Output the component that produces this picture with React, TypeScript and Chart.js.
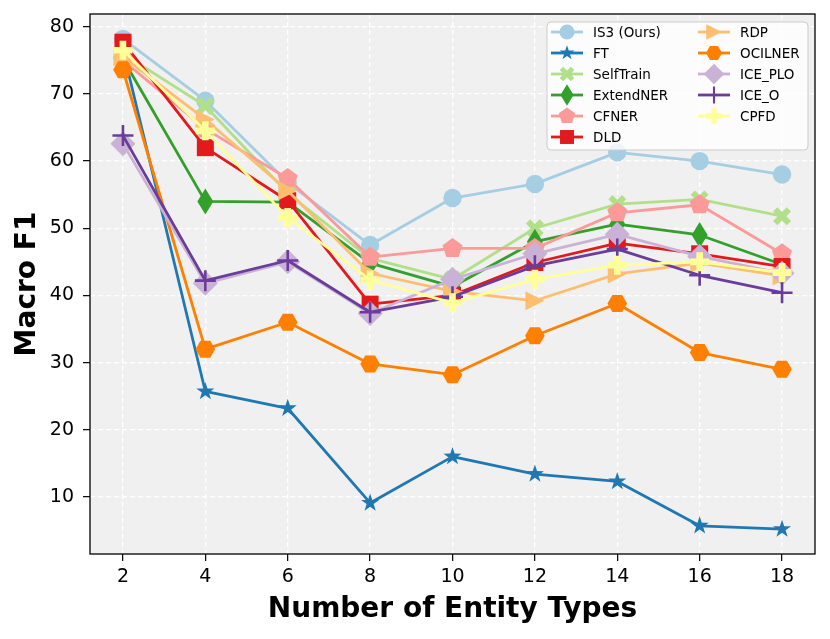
import { useEffect, useRef } from 'react'
import { Chart, registerables } from 'chart.js'

Chart.register(...registerables)

const entityCounts = [2, 4, 6, 8, 10, 12, 14, 16, 18]
const yTicks = [10, 20, 30, 40, 50, 60, 70, 80]

const methods = ['IS3 (Ours)', 'FT', 'SelfTrain', 'ExtendNER', 'CFNER', 'DLD', 'RDP', 'OCILNER', 'ICE_PLO', 'ICE_O', 'CPFD']
const colors = ['#a6cee3', '#1f78b4', '#b2df8a', '#33a02c', '#fb9a99', '#e31a1c', '#fdbf6f', '#ff7f00', '#cab2d6', '#6a3d9a', '#ffff99']
const markers = ['circle', 'star', 'x', 'thinDiamond', 'pentagon', 'square', 'triRight', 'hexagon', 'diamond', 'plus', 'plusFilled']

const is3 = [78.2, 69.0, 56.8, 47.5, 54.5, 56.6, 61.3, 60.0, 58.0]
const ft = [76.5, 25.7, 23.2, 9.1, 16.0, 13.4, 12.3, 5.7, 5.2]
const selfTrain = [76.0, 68.2, 55.2, 45.5, 42.4, 50.0, 53.6, 54.3, 51.8]
const extendNER = [75.2, 54.0, 53.9, 44.8, 41.3, 48.0, 50.6, 49.0, 44.6]
const cfner = [75.0, 64.8, 57.4, 45.7, 47.0, 47.0, 52.3, 53.5, 46.2]
const dld = [77.7, 62.0, 54.1, 38.7, 40.0, 44.9, 47.8, 46.2, 44.3]
const rdp = [75.5, 66.2, 55.6, 43.3, 40.6, 39.2, 43.2, 44.8, 42.9]
const ocilner = [73.6, 32.0, 36.0, 29.8, 28.2, 34.0, 38.8, 31.5, 29.0]
const icePLO = [62.6, 41.8, 45.0, 37.3, 42.4, 46.2, 49.1, 45.8, 43.3]
const iceO = [63.8, 42.2, 45.2, 37.5, 39.8, 44.4, 46.9, 43.0, 40.4]
const cpfd = [76.5, 64.5, 51.6, 42.3, 38.9, 42.4, 44.5, 45.0, 43.4]

const series = [is3, ft, selfTrain, extendNER, cfner, dld, rdp, ocilner, icePLO, iceO, cpfd]

const LINE_W = 2.8

function poly(ctx: CanvasRenderingContext2D, pts: number[][]) {
  ctx.moveTo(pts[0][0], pts[0][1])
  for (let i = 1; i < pts.length; i++) ctx.lineTo(pts[i][0], pts[i][1])
  ctx.closePath()
}

function plusPts(a: number, b: number) {
  return [[-b, -a], [b, -a], [b, -b], [a, -b], [a, b], [b, b], [b, a], [-b, a], [-b, b], [-a, b], [-a, -b], [-b, -b]]
}

function drawMarker(ctx: CanvasRenderingContext2D, kind: string, x: number, y: number, k: number, color: string) {
  ctx.save()
  ctx.translate(x, y)
  ctx.scale(k, k)
  ctx.fillStyle = color
  ctx.strokeStyle = color
  ctx.beginPath()
  if (kind === 'circle') {
    ctx.arc(0, 0, 9.2, 0, Math.PI * 2)
  } else if (kind === 'star') {
    const pts: number[][] = []
    for (let i = 0; i < 10; i++) {
      const r = i % 2 === 0 ? 9.5 : 3.7
      const ang = -Math.PI / 2 + (i * Math.PI) / 5
      pts.push([r * Math.cos(ang), r * Math.sin(ang)])
    }
    poly(ctx, pts)
  } else if (kind === 'x') {
    const c = Math.SQRT1_2
    poly(ctx, plusPts(9.7, 3).map(([px, py]) => [c * (px - py), c * (px + py)]))
  } else if (kind === 'thinDiamond') {
    poly(ctx, [[0, -13], [8, 0], [0, 13], [-8, 0]])
  } else if (kind === 'pentagon') {
    const pts: number[][] = []
    for (let i = 0; i < 5; i++) {
      const ang = -Math.PI / 2 + (i * 2 * Math.PI) / 5
      pts.push([10.5 * Math.cos(ang), 10.5 * Math.sin(ang)])
    }
    poly(ctx, pts)
  } else if (kind === 'square') {
    ctx.rect(-8.5, -8.5, 17, 17)
  } else if (kind === 'triRight') {
    poly(ctx, [[9.5, 0], [-9.5, -9.5], [-9.5, 9.5]])
  } else if (kind === 'hexagon') {
    const pts: number[][] = []
    for (let i = 0; i < 6; i++) {
      const ang = (i * Math.PI) / 3
      pts.push([9.8 * Math.cos(ang), 9.8 * Math.sin(ang)])
    }
    poly(ctx, pts)
  } else if (kind === 'diamond') {
    poly(ctx, [[0, -12.5], [12.5, 0], [0, 12.5], [-12.5, 0]])
  } else if (kind === 'plus') {
    ctx.lineWidth = 2.6
    ctx.moveTo(-10.5, 0)
    ctx.lineTo(10.5, 0)
    ctx.moveTo(0, -10.5)
    ctx.lineTo(0, 10.5)
    ctx.stroke()
    ctx.restore()
    return
  } else if (kind === 'plusFilled') {
    poly(ctx, plusPts(9.5, 3.3))
  }
  ctx.fill()
  ctx.restore()
}

const backdrop = {
  id: 'backdrop',
  beforeDraw(chart: Chart) {
    const { ctx, chartArea: a, width, height } = chart
    ctx.save()
    ctx.fillStyle = '#ffffff'
    ctx.fillRect(0, 0, width, height)
    ctx.fillStyle = '#f0f0f0'
    ctx.fillRect(a.left, a.top, a.right - a.left, a.bottom - a.top)
    ctx.restore()
  },
}

const markerPlugin = {
  id: 'markers',
  afterDatasetDraw(chart: Chart, args: any) {
    const i = args.index
    const ctx = chart.ctx
    for (const p of args.meta.data) {
      drawMarker(ctx, markers[i], p.x, p.y, 1, colors[i])
    }
  },
}

const frameAndLegend = {
  id: 'frameAndLegend',
  afterDraw(chart: Chart) {
    const { ctx, chartArea: a } = chart
    ctx.save()
    ctx.strokeStyle = '#000'
    ctx.lineWidth = 1.3
    ctx.strokeRect(a.left, a.top, a.right - a.left, a.bottom - a.top)

    // legend box, two columns filled top to bottom
    const bx = a.right - 268
    const by = a.top + 8
    const bw = 261
    const bh = 128
    ctx.beginPath()
    ctx.roundRect(bx, by, bw, bh, 4)
    ctx.fillStyle = 'rgba(255,255,255,0.8)'
    ctx.fill()
    ctx.strokeStyle = '#cccccc'
    ctx.lineWidth = 1
    ctx.stroke()

    ctx.font = '13.5px "DejaVu Sans"'
    ctx.textBaseline = 'middle'
    ctx.textAlign = 'left'
    const perCol = 6
    chart.data.datasets.forEach((ds, i) => {
      const col = Math.floor(i / perCol)
      const row = i % perCol
      const x0 = bx + 4 + col * 147
      const y0 = by + 10 + row * 21
      ctx.strokeStyle = colors[i]
      ctx.lineWidth = LINE_W
      ctx.beginPath()
      ctx.moveTo(x0, y0)
      ctx.lineTo(x0 + 32, y0)
      ctx.stroke()
      drawMarker(ctx, markers[i], x0 + 16, y0, 0.82, colors[i])
      ctx.fillStyle = '#000'
      ctx.fillText(ds.label as string, x0 + 42, y0 + 1)
    })
    ctx.restore()
  },
}

function noPad(s: any) {
  s.paddingTop = 0
  s.paddingBottom = 0
  s.paddingLeft = 0
  s.paddingRight = 0
}

export default function App() {
  const canvasRef = useRef<HTMLCanvasElement>(null)
  const chartRef = useRef<Chart | null>(null)

  useEffect(() => {
    if (!canvasRef.current) return
    chartRef.current?.destroy()

    Chart.defaults.font.family = '"DejaVu Sans"'
    Chart.defaults.color = '#000'

    const n = methods.length
    chartRef.current = new Chart(canvasRef.current, {
      type: 'line',
      data: {
        datasets: methods.map((name, i) => ({
          label: name,
          data: entityCounts.map((x, j) => ({ x, y: series[i][j] })),
          borderColor: colors[i],
          backgroundColor: colors[i],
          borderWidth: LINE_W,
          borderJoinStyle: 'round' as const,
          pointRadius: 0,
          tension: 0,
          order: n - 1 - i,
        })),
      },
      options: {
        animation: false,
        responsive: true,
        maintainAspectRatio: false,
        events: [],
        layout: { padding: { left: 0, right: 15, top: 14, bottom: 0 } },
        plugins: {
          legend: { display: false },
          tooltip: { enabled: false },
        },
        scales: {
          x: {
            type: 'linear',
            min: 1.2,
            max: 18.8,
            afterBuildTicks: (s: any) => {
              s.ticks = entityCounts.map((v) => ({ value: v }))
            },
            afterFit: (s: any) => {
              s.height = 85
              noPad(s)
            },
            ticks: {
              font: { size: 19 },
              padding: 5,
              maxRotation: 0,
              autoSkip: false,
            },
            grid: {
              color: '#ffffff',
              lineWidth: 1.3,
              tickColor: '#000',
              tickLength: 7,
              tickWidth: 1.2,
              tickBorderDash: [],
            },
            border: { display: false, dash: [5, 3] },
            title: {
              display: true,
              text: 'Number of Entity Types',
              font: { size: 28, weight: 'bold' },
              padding: { top: 0, bottom: 12 },
            },
          },
          y: {
            type: 'linear',
            min: 1.5,
            max: 81.9,
            afterBuildTicks: (s: any) => {
              s.ticks = yTicks.map((v) => ({ value: v }))
            },
            afterFit: (s: any) => {
              s.width = 90
              noPad(s)
            },
            ticks: {
              font: { size: 19 },
              padding: 9,
              autoSkip: false,
            },
            grid: {
              color: '#ffffff',
              lineWidth: 1.3,
              tickColor: '#000',
              tickLength: 7,
              tickWidth: 1.2,
              tickBorderDash: [],
            },
            border: { display: false, dash: [5, 3] },
            title: {
              display: true,
              text: 'Macro F1',
              font: { size: 28, weight: 'bold' },
              padding: { top: 11, bottom: 0 },
            },
          },
        },
      },
      plugins: [backdrop, markerPlugin, frameAndLegend],
    })

    return () => {
      chartRef.current?.destroy()
      chartRef.current = null
    }
  }, [])

  return (
    <div style={{ position: 'fixed', left: 0, top: 0, width: 830, height: 639, background: '#fff' }}>
      <canvas ref={canvasRef} />
    </div>
  )
}
